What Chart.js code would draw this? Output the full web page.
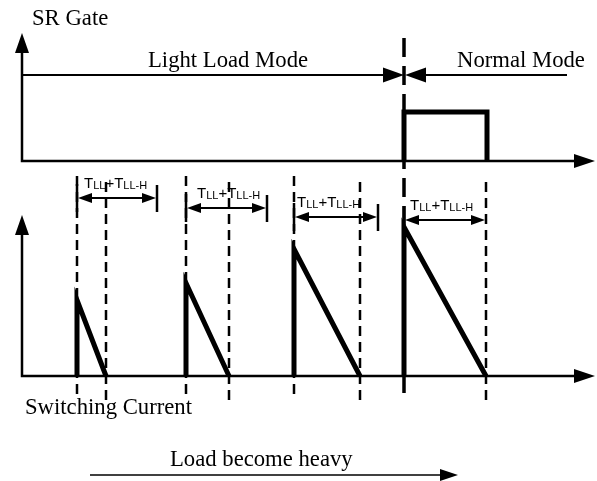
<!DOCTYPE html>
<html><head><meta charset="utf-8">
<script src="https://cdn.jsdelivr.net/npm/chart.js@4"></script>
<style>html,body{margin:0;padding:0;background:#fff}#wrap{width:597px;height:481px;position:relative}</style>
</head><body><div id="wrap"><canvas id="c"></canvas></div>
<script>
// ---- data (time in a.u., signal levels in a.u.) ----
const timeAxisStart = 22;
const timeAxisEnd = 595;
const pulseStart = [77, 186, 294, 404];      // switching current pulses: rise time
const pulseEnd = [106, 229, 360, 486];       // current reaches zero
const pulsePeak = [76, 93, 127, 149];        // peak switching current
const intervalEnd = [157, 267, 378, 486];    // end of TLL + TLL-H window
const intervalLevel = [178, 168, 159, 156];  // height of the TLL+TLL-H marker
const gateOn = [404, 487];                   // SR gate on (normal mode)
const gateHigh = 49;                         // SR gate high level
const modeBoundary = 404;                    // light load -> normal mode
const modeLevel = 86;
const gateAxisTop = 128;
const currentAxisTop = 161;
const markerTop = 194;                       // top of dashed time markers
const markerBottom = -24;
const loadArrow = [90, 458];
const titles = ['SR Gate', 'Light Load Mode', 'Normal Mode', 'Switching Current', 'Load become heavy'];
const intervalText = [['T', 0], ['LL', 1], ['+', 0], ['T', 0], ['LL-H', 1]];

// ---- layout (positions / styles) ----
const titlePos = [[32, 25], [148, 67], [457, 67], [25, 414], [170, 466]];
const intervalTextPos = [[84, 188], [197, 198], [297, 207], [410, 210]];
const loadArrowY = 475;
const SERIF = "22.7px 'Liberation Serif', 'Times New Roman', serif";

const K = '#000';
function line(data, axis, w, extra) {
  return Object.assign({data, yAxisID: axis, showLine: true, borderColor: K, backgroundColor: K,
    borderWidth: w, pointRadius: 0, fill: false, tension: 0, borderJoinStyle: 'miter', borderCapStyle: 'butt'}, extra || {});
}
const datasets = [];
// axes
datasets.push(line([{x: timeAxisEnd - 10, y: 0}, {x: timeAxisStart, y: 0}, {x: timeAxisStart, y: gateAxisTop - 10}], 'yg', 2.5));
datasets.push(line([{x: timeAxisEnd - 10, y: 0}, {x: timeAxisStart, y: 0}, {x: timeAxisStart, y: currentAxisTop - 10}], 'yc', 2.5));
// mode arrows
datasets.push(line([{x: timeAxisStart, y: modeLevel}, {x: modeBoundary - 10, y: modeLevel}], 'yg', 2));
datasets.push(line([{x: 567, y: modeLevel}, {x: modeBoundary + 10, y: modeLevel}], 'yg', 2));
// mode boundary dashed
datasets.push(line([{x: modeBoundary, y: 38}, {x: modeBoundary, y: 402}], 'yp', 3.5, {borderDash: [19, 9]}));
// gate pulse
datasets.push(line([{x: gateOn[0], y: 0}, {x: gateOn[0], y: gateHigh}, {x: gateOn[1], y: gateHigh}, {x: gateOn[1], y: 0}], 'yg', 5));
// current pulses
pulseStart.forEach((s, i) => {
  datasets.push(line([{x: s, y: 0}, {x: s, y: pulsePeak[i]}, {x: pulseEnd[i], y: 0}], 'yc', 5));
});
// dashed markers
pulseStart.forEach((s, i) => {
  if (s !== modeBoundary) datasets.push(line([{x: s, y: markerTop + 6}, {x: s, y: markerBottom}], 'yc', 2.5, {borderDash: [10, 6]}));
  datasets.push(line([{x: pulseEnd[i], y: markerTop}, {x: pulseEnd[i], y: markerBottom}], 'yc', 2.5, {borderDash: [10, 6]}));
});
// interval markers
pulseStart.forEach((s, i) => {
  const L = intervalLevel[i];
  datasets.push(line([{x: s + 7, y: L}, {x: intervalEnd[i] - 7, y: L}], 'yc', 2));
  datasets.push(line([{x: s, y: L + 14}, {x: s, y: L - 14}], 'yc', 2.5));
  if (intervalEnd[i] !== pulseEnd[i]) datasets.push(line([{x: intervalEnd[i], y: L + 13}, {x: intervalEnd[i], y: L - 14}], 'yc', 2.5));
});
// load arrow
datasets.push(line([{x: loadArrow[0], y: loadArrowY}, {x: loadArrow[1] - 9, y: loadArrowY}], 'yp', 1.5));

// arrow heads
const heads = [
  {x: timeAxisEnd, y: 0, axis: 'yg', dir: 'right', len: 21, hw: 7},
  {x: timeAxisStart, y: gateAxisTop, axis: 'yg', dir: 'up', len: 20, hw: 7},
  {x: timeAxisEnd, y: 0, axis: 'yc', dir: 'right', len: 21, hw: 7},
  {x: timeAxisStart, y: currentAxisTop, axis: 'yc', dir: 'up', len: 20, hw: 7},
  {x: modeBoundary, y: modeLevel, axis: 'yg', dir: 'right', len: 21, hw: 7.5},
  {x: modeBoundary + 1, y: modeLevel, axis: 'yg', dir: 'left', len: 21, hw: 7.5},
  {x: loadArrow[1], y: loadArrowY, axis: 'yp', dir: 'right', len: 18, hw: 6}
];
pulseStart.forEach((s, i) => {
  heads.push({x: s + 1, y: intervalLevel[i], axis: 'yc', dir: 'left', len: 14, hw: 5});
  heads.push({x: intervalEnd[i] - 1, y: intervalLevel[i], axis: 'yc', dir: 'right', len: 14, hw: 5});
});

const drawPlugin = {
  id: 'diagram',
  afterDatasetsDraw(chart) {
    const ctx = chart.ctx, xs = chart.scales.x, yp = chart.scales.yp;
    ctx.save();
    ctx.fillStyle = K;
    heads.forEach(h => {
      const tx = xs.getPixelForValue(h.x), ty = chart.scales[h.axis].getPixelForValue(h.y);
      ctx.beginPath();
      ctx.moveTo(tx, ty);
      if (h.dir === 'right') { ctx.lineTo(tx - h.len, ty - h.hw); ctx.lineTo(tx - h.len, ty + h.hw); }
      else if (h.dir === 'left') { ctx.lineTo(tx + h.len, ty - h.hw); ctx.lineTo(tx + h.len, ty + h.hw); }
      else { ctx.lineTo(tx - h.hw, ty + h.len); ctx.lineTo(tx + h.hw, ty + h.len); }
      ctx.closePath(); ctx.fill();
    });
    ctx.font = SERIF; ctx.textBaseline = 'alphabetic'; ctx.textAlign = 'left';
    titles.forEach((t, i) => {
      ctx.fillText(t, xs.getPixelForValue(titlePos[i][0]), yp.getPixelForValue(titlePos[i][1]));
    });
    intervalTextPos.forEach(p => {
      let x = xs.getPixelForValue(p[0]);
      const y = yp.getPixelForValue(p[1]);
      intervalText.forEach(([s, sub]) => {
        ctx.font = sub ? "11px 'Liberation Sans', Arial, sans-serif" : "15px 'Liberation Sans', Arial, sans-serif";
        ctx.fillText(s, x, y + (sub ? 1 : 0));
        x += ctx.measureText(s).width;
      });
    });
    ctx.restore();
  }
};

new Chart(document.getElementById('c'), {
  type: 'scatter',
  data: {datasets},
  options: {
    responsive: true, maintainAspectRatio: false, animation: false, events: [],
    layout: {padding: 0},
    plugins: {legend: {display: false}, tooltip: {enabled: false}},
    scales: {
      x: {type: 'linear', min: 0, max: 597, display: false},
      yg: {type: 'linear', min: -320, max: 161, display: false},
      yc: {type: 'linear', min: -105, max: 376, display: false},
      yp: {type: 'linear', min: 0, max: 481, reverse: true, display: false}
    }
  },
  plugins: [drawPlugin]
});
</script></body></html>
